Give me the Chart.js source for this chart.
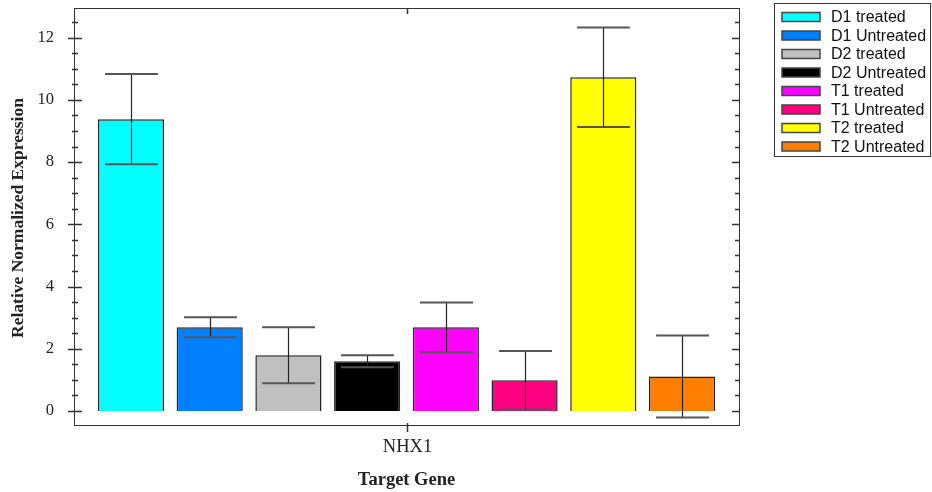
<!DOCTYPE html>
<html>
<head>
<meta charset="utf-8">
<script src="https://cdn.jsdelivr.net/npm/chart.js@4/dist/chart.umd.min.js"></script>
<style>
  body { margin: 0; background: #fff; }
  #wrap { width: 932px; height: 492px; }
</style>
</head>
<body>
<div id="wrap"><canvas id="myChart" width="932" height="492"></canvas></div>
<script>
// Data
const categories = ['NHX1'];
const seriesLabels = ['D1 treated', 'D1 Untreated', 'D2 treated', 'D2 Untreated',
                      'T1 treated', 'T1 Untreated', 'T2 treated', 'T2 Untreated'];
const seriesValues = [9.38, 2.69, 1.79, 1.6, 2.69, 0.99, 10.73, 1.11];
const errorValues  = [1.45, 0.32, 0.9, 0.19, 0.8, 0.94, 1.6, 1.32];
const seriesColors = ['#00ffff', '#0080ff', '#c0c0c0', '#000000',
                      '#ff00ff', '#ff0080', '#ffff00', '#ff8000'];
const yTickLabels = [0, 2, 4, 6, 8, 10, 12];
const yMinorStep = 0.5;
const yTitle = 'Relative Normalized Expression';
const xTitle = 'Target Gene';

const serif = '"Liberation Serif", "DejaVu Serif", serif';
const sans = '"Liberation Sans", Arial, sans-serif';

// axes, ticks and titles drawn around the chart area
const framePlugin = {
    id: 'frame',
    afterDatasetsDraw(chart) {
        const ctx = chart.ctx;
        const a = chart.chartArea;
        const y = chart.scales.y;
        const x = chart.scales.x;
        ctx.save();
        ctx.strokeStyle = '#333';
        ctx.lineWidth = 1;
        ctx.strokeRect(a.left + 0.5, a.top + 0.5, a.right - a.left, a.bottom - a.top);

        // minor + major ticks on left and right
        const top = yTickLabels[yTickLabels.length - 1] + yMinorStep;
        ctx.lineWidth = 1.5;
        for (let v = 0; v <= top + 1e-9; v += yMinorStep) {
            const py = Math.round(y.getPixelForValue(v)) + 0.5;
            const major = yTickLabels.includes(v);
            ctx.beginPath();
            if (major) {
                ctx.moveTo(a.left - 6, py); ctx.lineTo(a.left + 8, py);
                ctx.moveTo(a.right - 7, py); ctx.lineTo(a.right, py);
            } else {
                ctx.moveTo(a.left - 2, py); ctx.lineTo(a.left + 4, py);
                ctx.moveTo(a.right - 4, py); ctx.lineTo(a.right, py);
            }
            ctx.stroke();
        }

        // tick labels
        ctx.fillStyle = '#222';
        ctx.font = '16.5px ' + serif;
        ctx.textAlign = 'right';
        ctx.textBaseline = 'middle';
        yTickLabels.forEach(v => ctx.fillText(String(v), a.left - 20, y.getPixelForValue(v)));

        // category tick + label
        ctx.font = '18.5px ' + serif;
        categories.forEach((c, i) => {
            const px = Math.round(x.getPixelForValue(i)) + 0.5;
            ctx.lineWidth = 1.5;
            ctx.beginPath();
            ctx.moveTo(px, a.bottom - 2); ctx.lineTo(px, a.bottom + 7);
            ctx.moveTo(px, a.top); ctx.lineTo(px, a.top + 6);
            ctx.stroke();
            ctx.textAlign = 'center';
            ctx.fillText(c, px, a.bottom + 22);
        });

        // axis titles
        ctx.font = 'bold 18.5px ' + serif;
        ctx.textAlign = 'center';
        ctx.fillText(xTitle, (a.left + a.right) / 2, a.bottom + 55);
        ctx.save();
        ctx.font = 'bold 17.5px ' + serif;
        ctx.translate(18, 218);
        ctx.rotate(-Math.PI / 2);
        ctx.fillText(yTitle, 0, 0);
        ctx.restore();
        ctx.restore();
    }
};

// error bars from errorValues
const errorBarPlugin = {
    id: 'errorBars',
    afterDatasetsDraw(chart) {
        const ctx = chart.ctx;
        const y = chart.scales.y;
        ctx.save();
        chart.data.datasets.forEach((ds, i) => {
            const meta = chart.getDatasetMeta(i);
            meta.data.forEach((bar, j) => {
                const v = ds.data[j];
                const e = errorValues[i];
                const cx = Math.round(bar.x) + 0.5;
                const yHi = y.getPixelForValue(v + e);
                const yLo = y.getPixelForValue(v - e);
                const half = bar.width * 0.4;
                ctx.strokeStyle = '#222';
                ctx.lineWidth = 1.2;
                ctx.beginPath();
                ctx.moveTo(cx, yHi); ctx.lineTo(cx, yLo);
                ctx.stroke();
                ctx.strokeStyle = '#555';
                ctx.lineWidth = 2;
                ctx.beginPath();
                ctx.moveTo(cx - half, yHi); ctx.lineTo(cx + half, yHi);
                ctx.moveTo(cx - half, yLo); ctx.lineTo(cx + half, yLo);
                ctx.stroke();
            });
        });
        ctx.restore();
    }
};

// boxed legend on the right
const legendPlugin = {
    id: 'boxLegend',
    afterDraw(chart) {
        const ctx = chart.ctx;
        ctx.save();
        ctx.strokeStyle = '#333';
        ctx.lineWidth = 1;
        ctx.strokeRect(774.5, 3.5, 156, 153);
        ctx.font = '16px ' + sans;
        ctx.textBaseline = 'middle';
        ctx.textAlign = 'left';
        seriesLabels.forEach((lbl, i) => {
            const cy = 17 + i * 18.5;
            ctx.fillStyle = seriesColors[i];
            ctx.fillRect(782, cy - 4.5, 38, 9);
            ctx.strokeStyle = '#444';
            ctx.lineWidth = 1.5;
            ctx.strokeRect(782, cy - 4.5, 38, 9);
            ctx.fillStyle = '#111';
            ctx.fillText(lbl, 831, cy + 1);
        });
        ctx.restore();
    }
};

const ctx = document.getElementById('myChart').getContext('2d');
new Chart(ctx, {
    type: 'bar',
    data: {
        labels: categories,
        datasets: seriesLabels.map((lbl, i) => ({
            label: lbl,
            data: [seriesValues[i]],
            backgroundColor: seriesColors[i],
            borderColor: '#222',
            borderWidth: 1.5,
            categoryPercentage: 0.947,
            barPercentage: 0.84
        }))
    },
    options: {
        responsive: false,
        animation: false,
        layout: { padding: { left: 74, right: 193, top: 8, bottom: 67 } },
        plugins: { legend: { display: false }, tooltip: { enabled: false } },
        scales: {
            x: { display: false },
            y: { display: false, min: -0.45, max: 12.955 }
        }
    },
    plugins: [framePlugin, errorBarPlugin, legendPlugin]
});
</script>
</body>
</html>
